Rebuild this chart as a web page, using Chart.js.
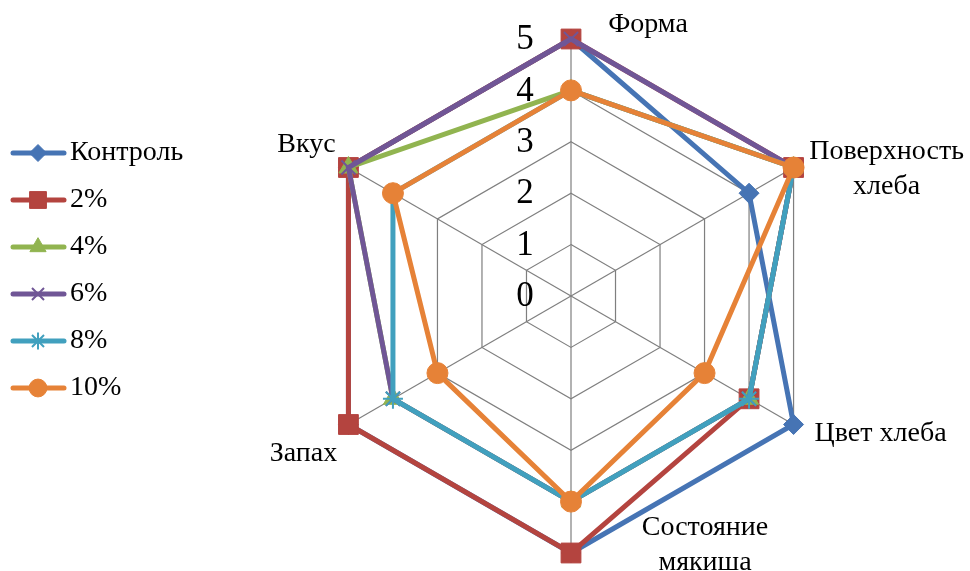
<!DOCTYPE html>
<html>
<head>
<meta charset="utf-8">
<script src="https://cdn.jsdelivr.net/npm/chart.js@4"></script>
<style>
html,body{margin:0;padding:0;background:#fff;}
#wrap{width:970px;height:571px;}
</style>
</head>
<body>
<div id="wrap"><canvas id="c" width="970" height="571"></canvas></div>
<script>
const categories = ['Форма', ['Поверхность', 'хлеба'], 'Цвет хлеба', ['Состояние', 'мякиша'], 'Запах', 'Вкус'];
const seriesNames = ['Контроль', '2%', '4%', '6%', '8%', '10%'];
const control = [5, 4, 5, 5, 5, 5];
const p2 = [5, 5, 4, 5, 5, 5];
const p4 = [4, 5, 4, 4, 4, 5];
const p6 = [5, 5, 4, 4, 4, 5];
const p8 = [4, 5, 4, 4, 4, 4];
const p10 = [4, 5, 3, 4, 3, 4];
const tickLabels = ['0', '1', '2', '3', '4', '5'];

const colors = ['#4674B4', '#B4443F', '#91B450', '#705696', '#41A0BE', '#E68237'];
const styles = [
  {pointStyle: 'rectRot', radius: 10, bw: 1},
  {pointStyle: 'rect', radius: 14, bw: 1},
  {pointStyle: 'triangle', radius: 11, bw: 1},
  {pointStyle: 'crossRot', radius: 10, bw: 2},
  {pointStyle: 'star', radius: 10, bw: 2},
  {pointStyle: 'circle', radius: 10.5, bw: 1}
];
const allData = [control, p2, p4, p6, p8, p10];

const datasets = allData.map((d, i) => ({
  label: seriesNames[i],
  data: d,
  borderColor: colors[i],
  backgroundColor: colors[i],
  borderWidth: 5,
  fill: false,
  pointStyle: styles[i].pointStyle,
  pointRadius: styles[i].radius,
  pointHoverRadius: styles[i].radius,
  pointBackgroundColor: colors[i],
  pointBorderColor: colors[i],
  pointBorderWidth: styles[i].bw,
  order: allData.length - i
}));

const SERIF = '"Liberation Serif", "Times New Roman", serif';

// label offsets relative to the outer (max value) point of each spoke
const labelOffsets = [
  {dx: 77, dy: -14},
  {dx: 93, dy: 2},
  {dx: 87, dy: 9},
  {dx: 134, dy: -8},
  {dx: -45, dy: 29},
  {dx: -42, dy: -23}
];

const customText = {
  id: 'customText',
  afterDraw(chart) {
    const ctx = chart.ctx;
    const r = chart.scales.r;
    ctx.save();
    // tick labels
    ctx.fillStyle = '#000';
    ctx.font = '35px ' + SERIF;
    ctx.textAlign = 'center';
    ctx.textBaseline = 'middle';
    tickLabels.forEach((t, i) => {
      const d = r.getDistanceFromCenterForValue(i);
      ctx.fillText(t, r.xCenter - 46, r.yCenter - d + 1);
    });
    // point labels
    ctx.font = '28px ' + SERIF;
    categories.forEach((c, i) => {
      const p = r.getPointPositionForValue(i, r.max);
      const lines = Array.isArray(c) ? c : [c];
      const lh = 35;
      const x = p.x + labelOffsets[i].dx;
      const y0 = p.y + labelOffsets[i].dy - (lines.length - 1) * lh / 2;
      lines.forEach((ln, k) => ctx.fillText(ln, x, y0 + k * lh));
    });
    // legend
    ctx.textAlign = 'left';
    seriesNames.forEach((n, i) => {
      const y = 153 + i * 47;
      ctx.strokeStyle = colors[i];
      ctx.fillStyle = colors[i];
      ctx.lineWidth = 5;
      ctx.lineCap = 'round';
      ctx.beginPath();
      ctx.moveTo(13, y);
      ctx.lineTo(64, y);
      ctx.stroke();
      ctx.lineCap = 'butt';
      ctx.lineWidth = styles[i].bw;
      Chart.helpers.drawPoint(ctx, {pointStyle: styles[i].pointStyle, radius: styles[i].radius * 0.85, rotation: 0, borderWidth: styles[i].bw}, 38, y);
      ctx.fillStyle = '#000';
      ctx.fillText(n, 70, y);
    });
    ctx.restore();
  }
};

new Chart(document.getElementById('c'), {
  type: 'radar',
  data: {labels: categories, datasets: datasets},
  options: {
    responsive: false,
    devicePixelRatio: 1,
    animation: false,
    layout: {padding: {left: 314, right: 142, top: 39, bottom: 18}},
    plugins: {legend: {display: false}, tooltip: {enabled: false}},
    elements: {line: {tension: 0}},
    scales: {
      r: {
        min: 0,
        max: 5,
        ticks: {stepSize: 1, display: false},
        grid: {color: '#7f7f7f', lineWidth: 1.2},
        angleLines: {color: '#7f7f7f', lineWidth: 1.2},
        pointLabels: {display: false}
      }
    }
  },
  plugins: [customText]
});
</script>
</body>
</html>
